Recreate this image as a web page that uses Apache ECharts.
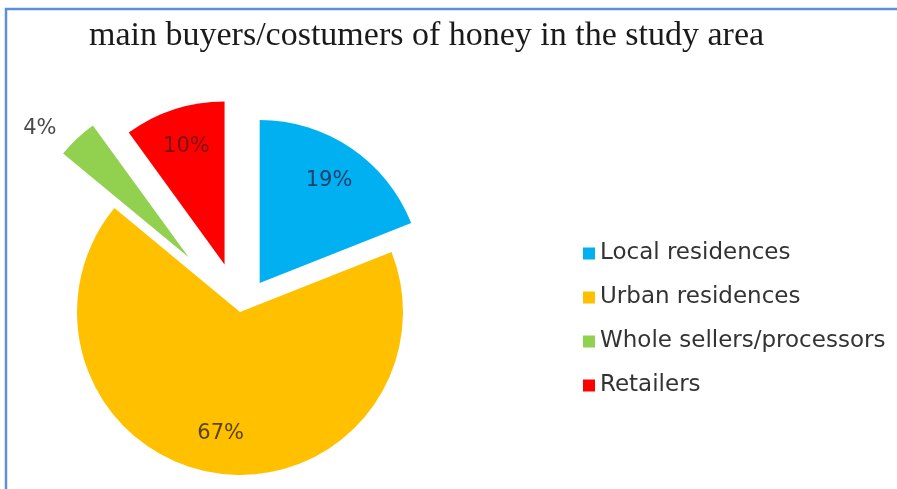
<!DOCTYPE html>
<html lang="en">
<head>
  <meta charset="UTF-8">
  <script src="https://cdn.jsdelivr.net/npm/echarts@6/dist/echarts.min.js"></script>
  <title>main buyers of honey</title>
  <style>
    body { margin: 0; background: #fff; }
  </style>
</head>
<body>
<div id="pieChart" style="width: 897px; height: 489px;"></div>
<script type="text/javascript">
  // data
  const buyers  = ['Local residences', 'Urban residences', 'Whole sellers/processors', 'Retailers'];
  const shares  = [19, 67, 4, 10];
  const colors  = ['#00b0f0', '#ffc000', '#92d050', '#ff0000'];
  const labelColors = ['#1f3f6e', '#5a4300', '#4a4a4a', '#7a1010'];
  // how far each slice is pulled out (px)
  const explode = [35, 0, 75, 50];

  function sliceSeries(k, radius, withLabel) {
    return {
      type: 'pie',
      center: [240, 312],
      radius: radius,
      startAngle: 90,
      clockwise: true,
      selectedMode: 'multiple',
      selectedOffset: explode[k],
      avoidLabelOverlap: false,
      silent: true,
      emphasis: {disabled: true},
      labelLine: {show: false, length: 14, length2: 6},
      data: buyers.map(function (name, i) {
        let mine = i === k;
        return {
          name: name,
          value: shares[i],
          selected: mine,
          itemStyle: {
            color: withLabel ? 'rgba(0,0,0,0)' : colors[i],
            opacity: (mine || withLabel) ? 1 : 0
          },
          label: {
            show: mine && withLabel,
            position: i === 2 ? 'outside' : 'inside',
            formatter: '{c}%',
            color: labelColors[i],
            opacity: 1,
            fontFamily: 'DejaVu Sans',
            fontSize: 21
          }
        };
      })
    };
  }

  function drawPie() {
    let chartDom = document.getElementById('pieChart');
    let myChart = echarts.init(chartDom);
    let series = [];
    buyers.forEach(function (b, k) { series.push(sliceSeries(k, [0, 163], false)); });
    buyers.forEach(function (b, k) { series.push(sliceSeries(k, [78, 163], true)); });

    myChart.setOption({
      animation: false,
      title: {
        text: 'main buyers/costumers of honey in the study area',
        left: 84,
        top: 14,
        textStyle: {
          fontFamily: 'Liberation Serif',
          fontSize: 34,
          fontWeight: 'normal',
          color: '#1a1a1a'
        }
      },
      legend: {
        orient: 'vertical',
        left: 578,
        top: 237,
        itemWidth: 12,
        itemHeight: 12,
        itemGap: 21,
        icon: 'rect',
        selectedMode: false,
        textStyle: {
          fontFamily: 'DejaVu Sans',
          fontSize: 23,
          color: '#333'
        },
        data: buyers.map(function (name, i) {
          return {name: name, itemStyle: {color: colors[i], opacity: 1}};
        })
      },
      graphic: [{
        type: 'rect',
        shape: {x: 6, y: 9, width: 920, height: 520},
        style: {fill: 'none', stroke: '#5b8fd8', lineWidth: 2.5},
        silent: true
      }],
      series: series
    });
  }

  drawPie();
</script>
</body>
</html>
